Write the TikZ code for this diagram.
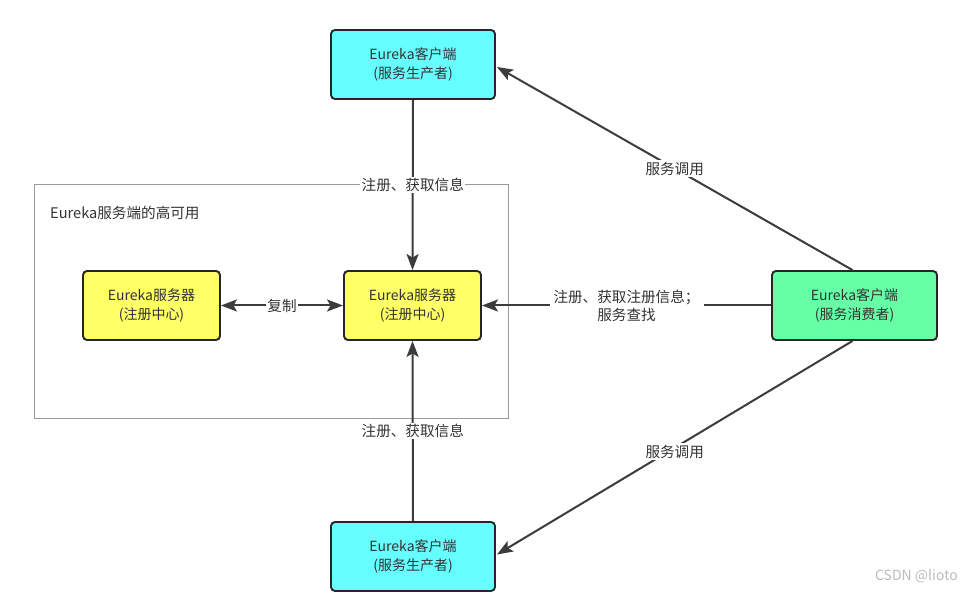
\documentclass[tikz,border=0pt]{standalone}
\usepackage{fontspec}
\setmainfont{Noto Sans CJK SC}
\usetikzlibrary{arrows.meta}
\definecolor{linegray}{HTML}{3C3C3C}
\definecolor{cyanfill}{HTML}{66FFFF}
\definecolor{yellowfill}{HTML}{FFFF66}
\definecolor{greenfill}{HTML}{66FFA6}
\definecolor{groupgray}{HTML}{9A9A9A}
\definecolor{marktext}{HTML}{BBBBBB}
\tikzset{
  boxbase/.style={draw=black!85, line width=1.9pt, rounded corners=4pt, inner sep=0pt,
    align=center, font=\fontsize{14}{19}\selectfont, text=black!80},
  clientbox/.style={boxbase, fill=cyanfill, minimum width=164pt, minimum height=69pt},
  serverbox/.style={boxbase, fill=yellowfill, minimum width=137pt, minimum height=69pt},
  consumerbox/.style={boxbase, fill=greenfill, minimum width=165pt, minimum height=69pt},
  tip/.tip={Stealth[length=16pt,width=12pt,inset=3.5pt]},
  conn/.style={draw=linegray, line width=2pt, -tip},
  biconn/.style={draw=linegray, line width=2pt, tip-tip},
  lbl/.style={fill=white, inner sep=1.5pt, align=center, font=\fontsize{14.6}{18}\selectfont, text=black!80}
}
\begin{document}
\begin{tikzpicture}[x=1pt,y=-1pt]
\useasboundingbox (0,0) rectangle (962,593);
% group box
\draw[groupgray, line width=0.8pt] (34,184) rectangle (508,418);
\node[anchor=west, inner sep=0pt, font=\fontsize{14.6}{18}\selectfont, text=black!80] (grp) at (50,213) {Eureka服务端的高可用};
% nodes
\node[clientbox] (top) at (413,64.5) {Eureka客户端\\(服务生产者)};
\node[serverbox] (srv) at (412.5,305.5) {Eureka服务器\\(注册中心)};
\node[serverbox] (srvl) at (151.5,305.5) {Eureka服务器\\(注册中心)};
\node[consumerbox] (cons) at (854.5,305.5) {Eureka客户端\\(服务消费者)};
\node[clientbox] (bot) at (413,556.5) {Eureka客户端\\(服务生产者)};
% connectors
\draw[conn] (top.south) -- node[lbl, pos=0.5] {注册、获取信息} (srv.north);
\draw[conn] (bot.north) -- node[lbl, pos=0.5] {注册、获取信息} (srv.south);
\draw[biconn] (srvl.east) -- node[lbl] {复制} (srv.west);
\draw[conn] (cons.west) -- node[lbl, inner xsep=4pt] {注册、获取注册信息；\\服务查找} (srv.east);
\draw[conn] ([xshift=-2pt]cons.north) -- node[lbl] {服务调用} ([xshift=1pt,yshift=-2.5pt]top.east);
\draw[conn] ([xshift=-2pt]cons.south) -- node[lbl, yshift=-4pt] {服务调用} ([xshift=1pt,yshift=2pt]bot.east);
% watermark
\node[anchor=east, inner sep=0pt, font=\fontsize{14}{18}\selectfont, text=marktext] (mark) at (958,576) {CSDN @lioto};
\end{tikzpicture}
\end{document}
